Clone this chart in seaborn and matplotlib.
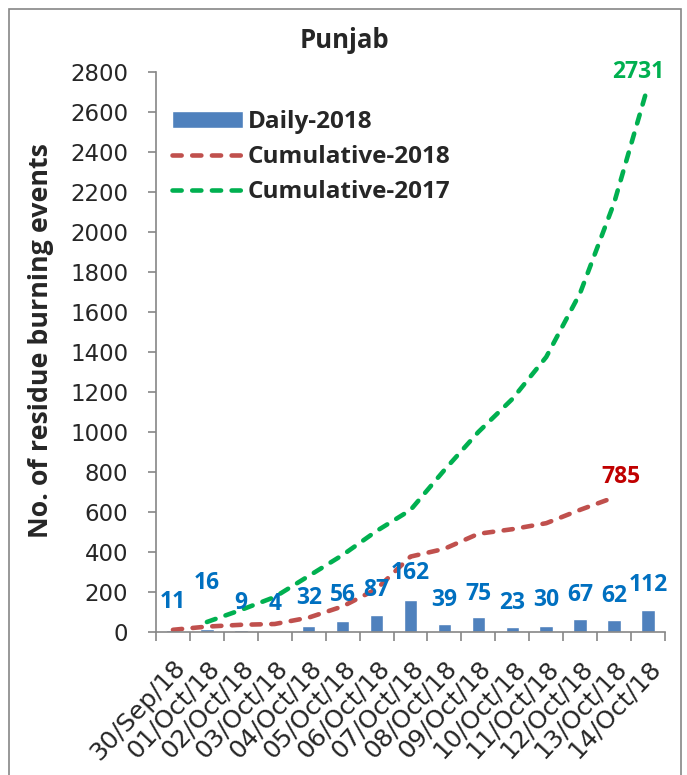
import numpy as np
import pandas as pd
import seaborn as sns
import matplotlib.pyplot as plt
from matplotlib.patches import Rectangle

# data
dates = ['30/Sep/18', '01/Oct/18', '02/Oct/18', '03/Oct/18', '04/Oct/18',
         '05/Oct/18', '06/Oct/18', '07/Oct/18', '08/Oct/18', '09/Oct/18',
         '10/Oct/18', '11/Oct/18', '12/Oct/18', '13/Oct/18', '14/Oct/18']
daily_2018 = [11, 16, 9, 4, 32, 56, 87, 162, 39, 75, 23, 30, 67, 62, 112]
cum_2018 = [11, 27, 36, 40, 72, 128, 215, 377, 416, 491, 514, 544, 611, 673, np.nan]
cum_2017 = [np.nan, 50, 110, 175, 280, 385, 505, 610, 810, 1000, 1165, 1375, 1695, 2145, 2731]
total_2018 = 785
total_2017 = 2731

# heights where the daily value labels sit
label_y = [152, 245, 145, 140, 170, 185, 210, 295, 160, 192, 147, 160, 185, 180, 235]

df = pd.DataFrame({'date': dates, 'daily': daily_2018,
                   'cum18': cum_2018, 'cum17': cum_2017})
df['pos'] = np.arange(len(df))

sns.set_style('white')
plt.rcParams['font.family'] = ['DejaVu Sans']

BOLD = 'Open Sans'
GREY = '#868686'

fig = plt.figure(figsize=(6.87, 7.75), dpi=100)
ax = fig.add_axes([156/687, 1 - 632/775, 509/687, 560/775])

sns.barplot(data=df, x='pos', y='daily', color='#4F81BD', saturation=1,
            width=0.4, ax=ax, label='Daily-2018', native_scale=True)
sns.lineplot(data=df, x='pos', y='cum18', color='#C0504D', lw=3.3,
             ax=ax, label='Cumulative-2018')
sns.lineplot(data=df, x='pos', y='cum17', color='#00B050', lw=3.3,
             ax=ax, label='Cumulative-2017')
for ln in ax.lines:
    ln.set_dashes([2.0, 2.3])
    ln.set_dash_capstyle('round')

# value labels
for i, (v, h) in enumerate(zip(daily_2018, label_y)):
    ax.text(i, h, str(v), ha='center', va='center', fontsize=16.5,
            fontweight='bold', family=BOLD, color='#0070C0')
last18 = int(np.where(~np.isnan(cum_2018))[0][-1])
ax.annotate(str(total_2018), xy=(last18, cum_2018[last18]), xytext=(5, 15),
            textcoords='offset points', ha='center', va='center', fontsize=16.5,
            fontweight='bold', family=BOLD, color='#C00000')
ax.annotate(str(total_2017), xy=(len(dates) - 1, cum_2017[-1]), xytext=(-7, 10),
            textcoords='offset points', ha='center', va='center', fontsize=16.5,
            fontweight='bold', family=BOLD, color='#00B050')

ax.set_xlim(-0.5, len(dates) - 0.5)
ax.set_ylim(0, 2800)
ax.set_yticks(np.arange(0, 2801, 200))
ax.set_xticks(np.arange(len(dates)))
ax.set_xticklabels(dates, rotation=47, ha='right', rotation_mode='anchor',
                   fontsize=18)
ax.set_xticks(np.arange(-0.5, len(dates)), minor=True)
ax.tick_params(axis='y', labelsize=16.5, length=6, width=1.2, color=GREY,
               direction='out', pad=14, left=True)
ax.tick_params(axis='x', which='major', length=0, pad=17)
ax.tick_params(axis='x', which='minor', length=6.5, width=1.2, color=GREY,
               direction='out', bottom=True)
ax.set_xlabel('')
ax.set_ylabel('')
for side in ['top', 'right']:
    ax.spines[side].set_visible(False)
for side in ['left', 'bottom']:
    ax.spines[side].set_color(GREY)
    ax.spines[side].set_linewidth(1.2)

handles, labels = ax.get_legend_handles_labels()
order = [labels.index(n) for n in ['Daily-2018', 'Cumulative-2018', 'Cumulative-2017']]
ax.legend([handles[k] for k in order], [labels[k] for k in order],
          loc='upper left', bbox_to_anchor=(0.008, 0.953),
          frameon=False, handlelength=2.9, handletextpad=0.2, labelspacing=0.45,
          borderpad=0, prop={'family': BOLD, 'weight': 'bold', 'size': 17.5})

fig.text(344/687, 1 - 41/775, 'Punjab', ha='center', va='center', fontsize=18.5,
         fontweight='bold', family=BOLD)
fig.text(41/687, 1 - 341/775, 'No. of residue burning events', rotation=90,
         ha='center', va='center', fontsize=19.3, fontweight='bold', family=BOLD)

fig.patches.append(Rectangle((9/687, -0.05), 672/687, 1.05 - 9/775,
                             transform=fig.transFigure, fill=False,
                             edgecolor=GREY, lw=1.2))

fig.savefig('out.png', dpi=100)
